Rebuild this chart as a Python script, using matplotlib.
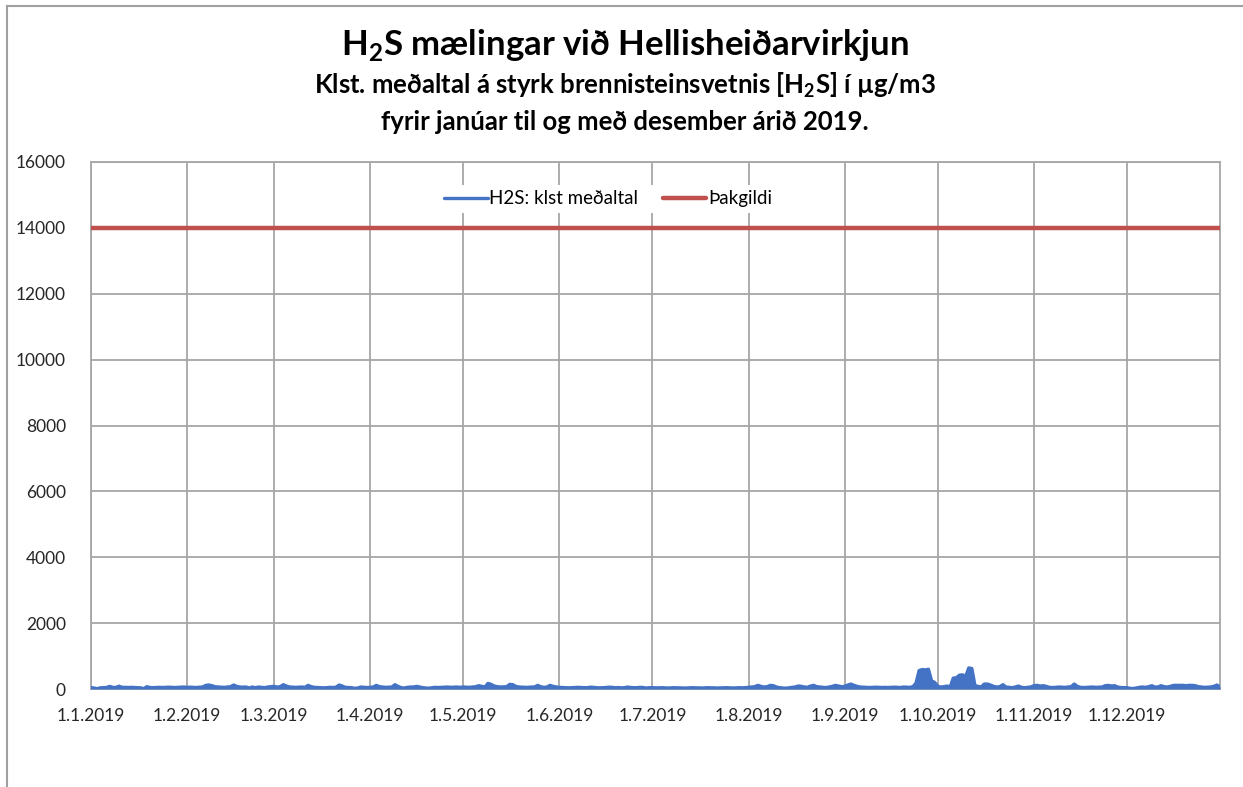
import matplotlib
matplotlib.use("Agg")
import matplotlib.pyplot as plt
import numpy as np
import pandas as pd

# Daglegt meðaltal H2S (lesið af mynd), einn listi per mánuð
jan = [40, 30, 10, 35, 40, 45, 80, 50, 45, 85, 50, 50, 45, 50, 45, 40, 35, 10, 70, 45, 40, 45, 50, 45, 50, 55, 50, 45, 50, 55, 60]
feb = [50, 55, 50, 45, 55, 60, 110, 120, 100, 70, 60, 55, 50, 60, 70, 120, 80, 60, 55, 60, 30, 60, 40, 60, 50, 40, 60, 70]
mar = [80, 60, 70, 130, 90, 60, 55, 50, 55, 60, 50, 110, 70, 50, 45, 40, 35, 40, 50, 45, 55, 120, 90, 50, 45, 40, 20, 30, 60, 50, 45]
apr = [50, 60, 110, 70, 60, 50, 55, 60, 130, 80, 40, 30, 50, 60, 60, 80, 60, 40, 30, 25, 40, 50, 45, 50, 55, 60, 50, 55, 60, 50]
may = [60, 55, 50, 60, 70, 100, 80, 60, 170, 140, 90, 70, 60, 65, 70, 140, 130, 80, 60, 55, 50, 50, 60, 60, 110, 70, 50, 60, 110, 80, 60]
jun = [50, 45, 40, 35, 40, 45, 50, 45, 40, 40, 55, 50, 40, 35, 40, 45, 55, 50, 40, 45, 35, 40, 60, 45, 40, 40, 50, 45, 30, 40]
jul = [40, 35, 35, 40, 35, 30, 35, 40, 35, 35, 30, 30, 35, 40, 35, 35, 30, 35, 40, 35, 35, 30, 35, 35, 40, 35, 30, 35, 40, 35, 40]
aug = [50, 60, 70, 110, 80, 60, 70, 110, 100, 60, 40, 30, 25, 35, 50, 60, 90, 80, 60, 50, 90, 110, 70, 60, 50, 45, 60, 80, 110, 90, 70]
sep = [80, 120, 150, 110, 80, 60, 55, 50, 45, 50, 55, 50, 45, 50, 45, 50, 55, 50, 45, 60, 55, 50, 70, 180, 560, 590, 580, 600, 250, 200]
okt = [80, 60, 70, 90, 60, 330, 340, 420, 430, 380, 640, 620, 100, 80, 60, 150, 150, 120, 80, 60, 70, 130, 60, 50, 40, 60, 90, 50, 40, 50, 60]
nov = [100, 110, 90, 100, 80, 50, 45, 50, 60, 55, 50, 60, 70, 150, 80, 50, 45, 50, 55, 60, 50, 55, 60, 100, 110, 90, 100, 60, 45, 40]
des = [40, 20, 15, 30, 50, 60, 50, 70, 100, 60, 60, 100, 70, 60, 80, 110, 110, 110, 110, 100, 110, 110, 100, 70, 60, 50, 55, 60, 80, 120, 60]

h2s = jan + feb + mar + apr + may + jun + jul + aug + sep + okt + nov + des
thakgildi = 14000

dagar = pd.date_range("2019-01-01", periods=len(h2s), freq="D")
manadir = pd.date_range("2019-01-01", periods=12, freq="MS")
manada_labels = ["1.1.2019", "1.2.2019", "1.3.2019", "1.4.2019", "1.5.2019", "1.6.2019",
                 "1.7.2019", "1.8.2019", "1.9.2019", "1.10.2019", "1.11.2019", "1.12.2019"]
y_ticks = [0, 2000, 4000, 6000, 8000, 10000, 12000, 14000, 16000]

plt.rcParams["font.family"] = ["Lato", "DejaVu Sans"]
plt.rcParams["mathtext.fontset"] = "custom"
plt.rcParams["mathtext.rm"] = "Lato"
plt.rcParams["mathtext.bf"] = "Lato:bold"

fig = plt.figure(figsize=(12.43, 7.87), dpi=100)
ax = fig.add_axes([91 / 1243, 98 / 787, 1129 / 1243, 527 / 787])

# klst gögnin eru svo þétt að línan virkar fyllt í Excel
ax.fill_between(dagar, h2s, 0, color="#4472C4", lw=0, zorder=3)
ax.plot(dagar, h2s, color="#4472C4", lw=2.4, label="H2S: klst meðaltal", zorder=3,
        solid_capstyle="round")
ax.plot([dagar[0], dagar[-1]], [thakgildi, thakgildi], color="#C0504D", lw=3.2,
        label="Þakgildi", zorder=4, solid_capstyle="round")

ax.set_xlim(dagar[0], dagar[-1])
ax.set_ylim(0, 16000)
ax.set_yticks(y_ticks)
ax.set_xticks(manadir)
ax.set_xticklabels(manada_labels)
ax.tick_params(axis="both", length=0, labelsize=12.5, colors="#262626")
ax.tick_params(axis="y", pad=18)
ax.tick_params(axis="x", pad=14)

ax.grid(True, color="#A6A6A6", lw=1.3)
ax.set_axisbelow(True)
for sp in ax.spines.values():
    sp.set_color("#A6A6A6")
    sp.set_linewidth(1.3)

leg = ax.legend(loc="center", bbox_to_anchor=(0.458, 0.93), ncol=2, frameon=True,
                fontsize=13.5, handlelength=2.3, handletextpad=0.1, columnspacing=1.3,
                borderpad=0.3)
leg.get_frame().set_edgecolor("none")
leg.get_frame().set_facecolor("white")
leg.get_frame().set_alpha(1)

fig.text(0.503, 1 - 45 / 787, r"H$_\mathbf{2}$S mælingar við Hellisheiðarvirkjun",
         ha="center", va="center", fontsize=25, fontweight="bold", color="#000000")
fig.text(0.503, 1 - 85 / 787, r"Klst. meðaltal á styrk brennisteinsvetnis [H$_\mathbf{2}$S] í µg/m3",
         ha="center", va="center", fontsize=18.5, fontweight="bold", color="#000000")
fig.text(0.503, 1 - 122 / 787, "fyrir janúar til og með desember árið 2019.",
         ha="center", va="center", fontsize=18.5, fontweight="bold", color="#000000")

# rammi utan um grafið (eins og í Excel)
fig.add_artist(plt.Line2D([7 / 1243, 1], [1 - 6 / 787, 1 - 6 / 787], color="#A0A0A0", lw=1.5))
fig.add_artist(plt.Line2D([7 / 1243, 7 / 1243], [0, 1 - 6 / 787], color="#A0A0A0", lw=1.5))

fig.savefig("out.png", dpi=100)
